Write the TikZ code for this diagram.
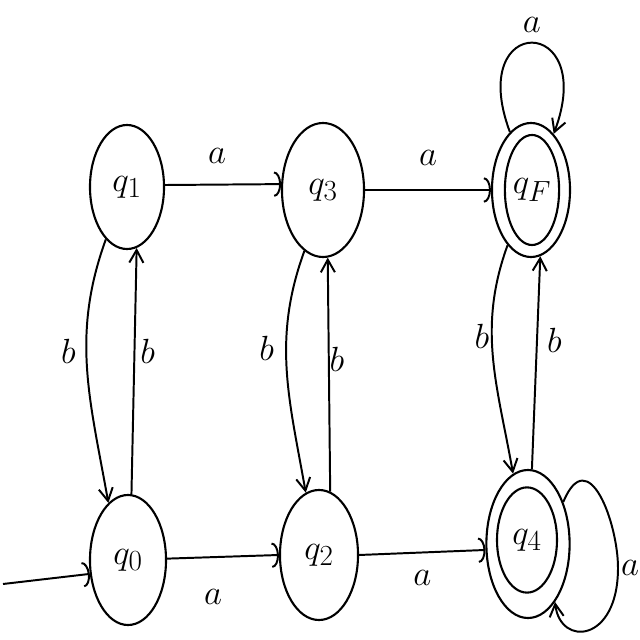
\documentclass[tikz,border=0pt]{standalone}
\usetikzlibrary{arrows.meta,shapes.geometric}
\begin{document}
\begin{tikzpicture}[x=0.025cm,y=0.025cm,
  st/.style={ellipse, draw, line width=1.5pt, inner sep=0pt, font=\fontsize{28}{32}\selectfont},
  lbl/.style={font=\fontsize{24}{28}\selectfont, inner sep=1pt},
  vedge/.style={draw, line width=1.4pt, -{Straight Barb[length=9pt,width=10pt]}},
  hedge/.style={draw, line width=1.4pt, -{Arc Barb[length=5pt,width=18pt]}}
]
\useasboundingbox (0,0) rectangle (640,640);
% states
\node[st, minimum width=1.85cm, minimum height=3.1cm] (q1) at (127,453) {$q_1$};
\node[st, minimum width=2.05cm, minimum height=3.35cm] (q3) at (323,450) {$q_3$};
\node[st, minimum width=1.95cm, minimum height=3.35cm] (qF) at (531,450) {};
\node[st, minimum width=1.13cm, minimum height=2.75cm] (qFin) at (532,450) {$q_F$};
\node[st, minimum width=1.9cm, minimum height=3.25cm] (q0) at (128,80) {$q_0$};
\node[st, minimum width=1.95cm, minimum height=3.25cm] (q2) at (319,85) {$q_2$};
\node[st, minimum width=2.08cm, minimum height=3.7cm] (q4) at (528,96) {};
\node[st, minimum width=1.5cm, minimum height=2.63cm] (q4in) at (527,100) {$q_4$};
\coordinate (start) at (3,56);
\coordinate (q4r) at (618,72);
% start arrow
\draw[hedge] (start) -- (q0.200);
% horizontal a-edges
\draw[hedge] (q1.3) -- node[lbl, xshift=-0.15cm, yshift=0.72cm] {$a$} (q3.172);
\draw[hedge] (q3.east) -- node[lbl, yshift=0.8cm] {$a$} (qF.west);
\draw[hedge] (q0.2) -- node[lbl, xshift=-0.25cm, yshift=-1cm] {$a$} (q2.west);
\draw[hedge] (q2.east) -- node[lbl, yshift=-0.63cm] {$a$} (q4.188);
% vertical b-edges
\draw[vedge] (q1.248) to[out=250, in=100] node[lbl, xshift=-0.47cm, yshift=0.45cm] {$b$} (q0.109);
\draw[vedge] (q0.87) -- node[lbl, xshift=0.34cm, yshift=0.5cm] {$b$} (q1.279);
\draw[vedge] (q3.253) to[out=250, in=100] node[lbl, xshift=-0.5cm, yshift=0.55cm] {$b$} (q2.102);
\draw[vedge] (q2.80) -- node[lbl, xshift=0.2cm, yshift=0.38cm] {$b$} (q3.274);
\draw[vedge] (qF.247) to[out=250, in=100] node[lbl, xshift=-0.28cm, yshift=0.55cm] {$b$} (q4.102);
\draw[vedge] (q4.87) -- node[lbl, xshift=0.46cm, yshift=0.55cm] {$b$} (qF.278);
% self-loops
\draw[vedge] (qF.110) .. controls +(-45,120) and +(45,120) .. node[lbl, yshift=0.45cm] {$a$} (qF.68);
\draw[vedge] (q4.50) .. controls +(25,60) and +(0,45) .. (q4r) node[lbl, xshift=0.3cm] {$a$}
  .. controls +(0,-75) and +(5,-45) .. (q4.295);
\end{tikzpicture}
\end{document}
